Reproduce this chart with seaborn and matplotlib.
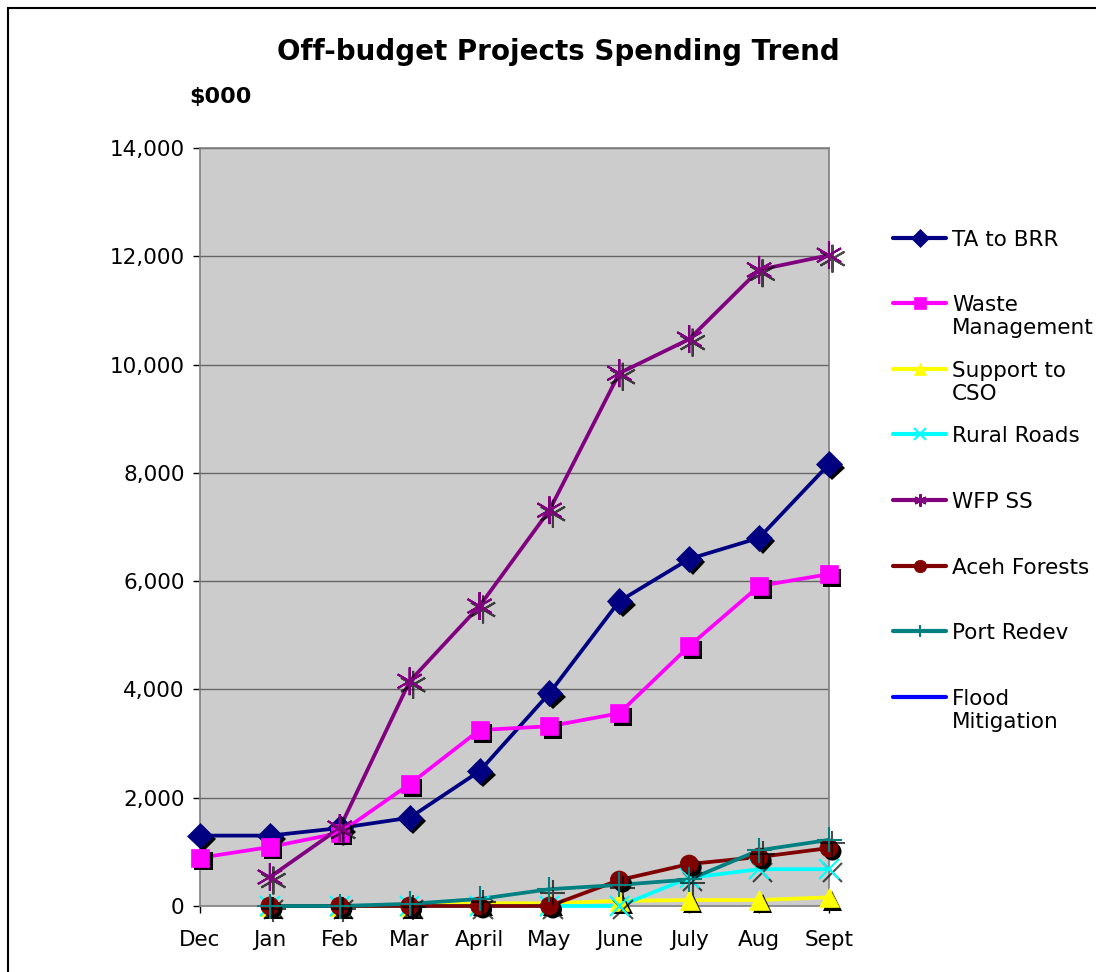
import numpy as np
import pandas as pd
import matplotlib
matplotlib.use("Agg")
import matplotlib.pyplot as plt
import matplotlib.patheffects as pe
from matplotlib.lines import Line2D
from matplotlib.patches import Rectangle
from matplotlib.legend_handler import HandlerLine2D
import seaborn as sns

months = ["Dec", "Jan", "Feb", "Mar", "April", "May", "June", "July", "Aug", "Sept"]
ta_to_brr = [1300, 1300, 1440, 1630, 2490, 3930, 5630, 6410, 6800, 8160]
waste_mgmt = [890, 1090, 1350, 2250, 3250, 3320, 3560, 4800, 5910, 6130]
support_cso = [np.nan, 0, 0, 0, 50, 50, 95, 110, 110, 160]
rural_roads = [np.nan, 0, 0, 0, 0, 0, 0, 520, 680, 680]
wfp_ss = [np.nan, 535, 1440, 4150, 5540, 7310, 9840, 10470, 11750, 12020]
aceh_forests = [np.nan, 0, 0, 0, 0, 0, 480, 775, 905, 1070]
port_redev = [np.nan, 0, 0, 40, 130, 310, 390, 490, 1030, 1220]
flood_mitigation = [np.nan] * 10

series_names = ["TA to BRR", "Waste Management", "Support to CSO", "Rural Roads",
                "WFP SS", "Aceh Forests", "Port Redev", "Flood Mitigation"]
legend_labels = ["TA to BRR\n ", "Waste\nManagement", "Support to\nCSO", "Rural Roads\n ",
                 "WFP SS\n ", "Aceh Forests\n ", "Port Redev\n ", "Flood\nMitigation"]
series_values = [ta_to_brr, waste_mgmt, support_cso, rural_roads,
                 wfp_ss, aceh_forests, port_redev, flood_mitigation]
colors = ["#000080", "#FF00FF", "#FFFF00", "#00FFFF", "#800080", "#800000", "#008080", "#0000FF"]
markers = ["D", "s", "^", "x", (6, 2, 0), "o", "+", "_"]
msizes = [13, 13, 14, 14, 20, 13, 18, 12]
filled = [True, True, True, False, False, True, False, False]

rows = []
for name, vals in zip(series_names, series_values):
    for i, v in enumerate(vals):
        rows.append({"series": name, "x": i, "value": v})
df = pd.DataFrame(rows)


class RaisedHandler(HandlerLine2D):
    def __init__(self, dy, **kw):
        super().__init__(**kw)
        self.dy = dy

    def create_artists(self, legend, orig_handle, xdescent, ydescent, width,
                       height, fontsize, trans):
        return super().create_artists(legend, orig_handle, xdescent,
                                      ydescent - self.dy * fontsize, width,
                                      height, fontsize, trans)


sns.set_style("white")
plt.rcParams["font.family"] = ["DejaVu Sans"]
plt.rcParams["text.color"] = "black"
plt.rcParams["axes.labelcolor"] = "black"
plt.rcParams["xtick.color"] = "black"
plt.rcParams["ytick.color"] = "black"

fig = plt.figure(figsize=(10.96, 9.72), dpi=100)
ax = fig.add_axes([200 / 1096, 1 - 906 / 972, 629 / 1096, 758 / 972])
ax.set_facecolor("#CCCCCC")

for name, c, m, ms, f in zip(series_names, colors, markers, msizes, filled):
    sub = df[df["series"] == name].dropna()
    if sub.empty:
        continue
    sns.lineplot(data=sub, x="x", y="value", ax=ax, color=c, linewidth=2.7,
                 zorder=3, legend=False, clip_on=False)
    if f:
        peff = [pe.SimplePatchShadow(offset=(2.5, -2.5), shadow_rgbFace="black", alpha=1.0), pe.Normal()]
    else:
        peff = [pe.SimpleLineShadow(offset=(2.5, -2.5), shadow_color="black", alpha=0.7), pe.Normal()]
    sns.lineplot(data=sub, x="x", y="value", ax=ax, color=c, linestyle="none",
                 marker=m, markersize=ms, markeredgewidth=1.5 if not f else 0.5,
                 markeredgecolor=c, markerfacecolor=c, zorder=4, legend=False,
                 path_effects=peff, clip_on=False)

ax.set_xlim(0, len(months) - 1)
ax.set_ylim(0, 14000)
ax.set_xticks(range(len(months)))
ax.set_xticklabels(months)
ax.set_yticks(range(0, 14001, 2000))
ax.set_yticklabels([f"{v:,}" for v in range(0, 14001, 2000)])
ax.tick_params(axis="both", labelsize=15.5, colors="black", length=5, width=1,
               direction="out", left=True, bottom=True)
ax.tick_params(axis="x", pad=12)
ax.tick_params(axis="y", pad=6)
ax.grid(axis="y", color="#666666", linewidth=1)
ax.set_axisbelow(True)
for s in ax.spines.values():
    s.set_color("#808080")
    s.set_linewidth(1.2)
ax.set_xlabel("")
ax.set_ylabel("")

handles = []
for c, m, f in zip(colors, markers, filled):
    handles.append(Line2D([0], [0], color=c, linewidth=3, marker=m, markersize=9,
                          markerfacecolor=c, markeredgecolor=c,
                          markeredgewidth=1.5 if not f else 0.5))
hmap = {h: RaisedHandler(1.3) for h in handles}
leg = fig.legend(handles, legend_labels, loc="upper left",
                 bbox_to_anchor=(884 / 1096, 1 - 221 / 972),
                 frameon=False, fontsize=15.5, handlelength=2.5, handletextpad=0.25,
                 labelspacing=1.04, borderaxespad=0, handler_map=hmap)

fig.text(558 / 1096, 1 - 52 / 972, "Off-budget Projects Spending Trend",
         ha="center", va="center", fontsize=20, fontweight="bold")
fig.text(189 / 1096, 1 - 97 / 972, "$000", ha="left", va="center",
         fontsize=16, fontweight="bold")

fig.patches.append(Rectangle((8 / 1096, -0.05), 1.2, 1 - 8 / 972 + 0.05,
                             transform=fig.transFigure, fill=False,
                             edgecolor="black", linewidth=1.5))

fig.savefig("out.png", dpi=100)
